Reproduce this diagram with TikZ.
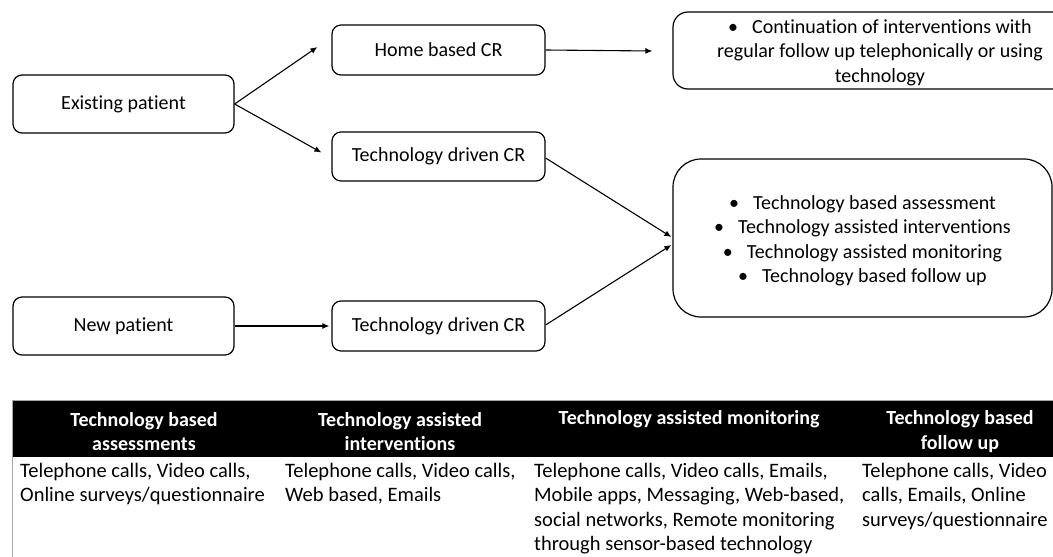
\documentclass[tikz,border=0pt]{standalone}
\usepackage{fontspec}
\setmainfont{Carlito}[Ligatures=CommonOff]
\usetikzlibrary{arrows.meta,calc}
\begin{document}
\begin{tikzpicture}[x=1pt,y=-1pt,
  flowbox/.style={draw, line width=1.2pt, rounded corners=9pt, inner sep=0pt, align=center, font=\fontsize{20}{24.5}\selectfont},
  boxtext/.style={inner sep=0pt, align=center, font=\fontsize{20}{24.5}\selectfont},
  arr/.style={-{Latex[length=7pt,width=6pt]}, line width=1.1pt},
  hdtext/.style={text=white, align=center, font=\bfseries\fontsize{20}{24.5}\selectfont, inner sep=0pt},
  bodytext/.style={anchor=north west, align=left, inner sep=0pt, font=\fontsize{20.5}{24.4}\selectfont}
]
\useasboundingbox (0,0) rectangle (1053,557);
\begin{scope}
\clip (0,0) rectangle (1053,557);
% flow boxes
\node[flowbox, minimum width=221pt, minimum height=58pt] (ep) at (123.5,104) {Existing patient};
\node[flowbox, minimum width=221pt, minimum height=58pt] (np) at (123.5,326) {New patient};
\node[flowbox, minimum width=213pt, minimum height=50pt] (home) at (438.5,50) {Home based CR};
\node[flowbox, minimum width=213pt, minimum height=49pt] (tech1) at (438.5,156.5) {Technology driven CR};
\node[flowbox, minimum width=213pt, minimum height=50pt] (tech2) at (438.5,326) {Technology driven CR};
\node[flowbox, rounded corners=15pt, minimum width=414pt, minimum height=77pt] (cont) at (880,50.5) {};
\node[boxtext] (contt) at ($(cont.center)+(0,2)$)
  {•\hspace{0.7em}Continuation of interventions with\\regular follow up telephonically or using\\technology};
\node[flowbox, rounded corners=28pt, minimum width=379pt, minimum height=158pt] (big) at (862.5,238) {};
\node[boxtext] (bigt) at ($(big.center)+(0,3)$)
  {•\hspace{0.7em}Technology based assessment\\
   •\hspace{0.7em}Technology assisted interventions\\
   •\hspace{0.7em}Technology assisted monitoring\\
   •\hspace{0.7em}Technology based follow up};
% connectors
\draw[arr] (ep.east) -- ($(home.west)+(-14,-3)$);
\draw[arr] (ep.east) -- ($(tech1.west)+(-10,-4)$);
\draw[arr] (home.east) -- ($(cont.west)+(-20,0.5)$);
\draw[arr] ($(tech1.east)+(0,1.5)$) -- ($(big.west)+(-1,-1)$);
\draw[arr] ($(tech2.east)+(0,-1)$) -- ($(big.west)+(-1,7)$);
\draw[arr] (np.east) -- ($(tech2.west)+(-2,0)$);
% table
\fill[black] (12,400) rectangle (1060,457);
\draw[gray!70, line width=0.8pt] (12,400) -- (1060,400);
\draw[gray!70, line width=0.8pt] (12,400) -- (12,560);
\node[hdtext] (h1) at (144,431.5) {Technology based\\assessments};
\node[hdtext] (h2) at (400,431.5) {Technology assisted\\interventions};
\node[hdtext] (h3) at (689,419) {Technology assisted monitoring};
\node[hdtext] (h4) at (960,431.5) {Technology based\\follow up};
\node[bodytext] (b1) at (20,463) {Telephone calls, Video calls,\\Online surveys/questionnaire};
\node[bodytext] (b2) at (285,463) {Telephone calls, Video calls,\\Web based, Emails};
\node[bodytext] (b3) at (534,463) {Telephone calls, Video calls, Emails,\\Mobile apps, Messaging, Web-based,\\social networks, Remote monitoring\\through sensor-based technology};
\node[bodytext] (b4) at (862,463) {Telephone calls, Video\\calls, Emails, Online\\surveys/questionnaire};
\end{scope}
\end{tikzpicture}
\end{document}
